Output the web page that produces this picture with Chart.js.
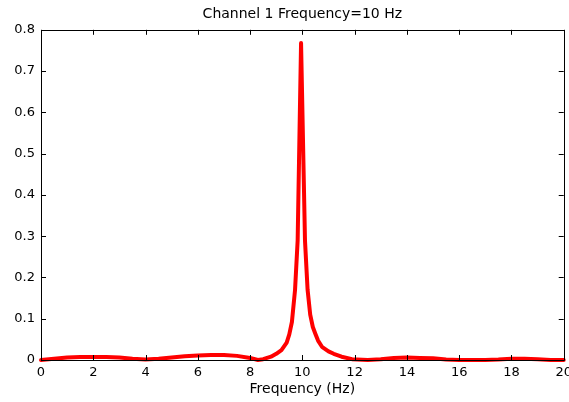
<!DOCTYPE html>
<html>
<head>
<meta charset="utf-8">
<script src="https://cdn.jsdelivr.net/npm/chart.js@4"></script>
<style>
  html, body { margin: 0; padding: 0; background: #fff; overflow: hidden; }
  #wrap { width: 577px; height: 402px; }
</style>
</head>
<body>
<div id="wrap"><canvas id="spectrum" width="577" height="402"></canvas></div>
<script>
// frequency axis (Hz) and spectrum amplitude
const freqHz = [
  0, 0.5, 1, 1.5, 2, 2.5, 3, 3.5, 4, 4.5, 5, 5.5, 6, 6.5, 7, 7.5, 8, 8.3,
  8.5, 8.8, 9.0, 9.2, 9.4, 9.5, 9.6, 9.72, 9.82, 9.95,
  10.1, 10.2, 10.3, 10.4, 10.5, 10.6, 10.75, 11.0, 11.2, 11.5, 11.9, 12.5,
  13, 13.5, 14, 14.5, 15, 15.5, 16, 17, 17.5, 18, 18.5, 19, 19.5, 20
];
const amplitude = [
  0.0, 0.003, 0.006, 0.007, 0.007, 0.007, 0.006, 0.003, 0.001, 0.003, 0.006, 0.009, 0.011, 0.012, 0.012, 0.010, 0.005, 0.0,
  0.002, 0.008, 0.015, 0.024, 0.042, 0.062, 0.092, 0.17, 0.29, 0.768,
  0.29, 0.17, 0.11, 0.08, 0.063, 0.047, 0.032, 0.021, 0.015, 0.008, 0.002, 0.0,
  0.002, 0.005, 0.006, 0.005, 0.004, 0.001, 0.0, 0.0, 0.001, 0.003, 0.003, 0.002, 0.0, 0.0
];
const xTicks = [0, 2, 4, 6, 8, 10, 12, 14, 16, 18, 20];
const yTicks = [0, 0.1, 0.2, 0.3, 0.4, 0.5, 0.6, 0.7, 0.8];

const chartTitle = "Channel 1 Frequency=10 Hz";
const xLabel = "Frequency (Hz)";

const points = freqHz.map((f, i) => ({ x: f, y: amplitude[i] }));

// desenha a moldura e os tracinhos para dentro, estilo matlab
const boxTicks = {
  id: "boxTicks",
  afterDatasetsDraw(chart) {
    const { ctx, chartArea: a, scales: { x, y } } = chart;
    const len = 5;
    ctx.save();
    ctx.strokeStyle = "#000";
    ctx.lineWidth = 1;
    ctx.beginPath();
    ctx.rect(Math.round(a.left) + 0.5, Math.round(a.top) + 0.5,
             Math.round(a.right - a.left), Math.round(a.bottom - a.top));
    xTicks.forEach(v => {
      const px = Math.round(x.getPixelForValue(v)) + 0.5;
      ctx.moveTo(px, a.bottom); ctx.lineTo(px, a.bottom - len);
      ctx.moveTo(px, a.top); ctx.lineTo(px, a.top + len);
    });
    yTicks.forEach(v => {
      const py = Math.round(y.getPixelForValue(v)) + 0.5;
      ctx.moveTo(a.left, py); ctx.lineTo(a.left + len, py);
      ctx.moveTo(a.right, py); ctx.lineTo(a.right - len, py);
    });
    ctx.stroke();
    ctx.restore();
  }
};

const font = { family: "'DejaVu Sans', sans-serif", size: 13 };

new Chart(document.getElementById("spectrum"), {
  type: "line",
  data: {
    datasets: [{
      data: points,
      borderColor: "#ff0000",
      borderWidth: 4,
      borderJoinStyle: "round",
      borderCapStyle: "round",
      pointRadius: 0,
      tension: 0,
      fill: false,
      clip: false
    }]
  },
  options: {
    responsive: false,
    animation: false,
    layout: { padding: 0 },
    plugins: {
      legend: { display: false },
      tooltip: { enabled: false },
      title: {
        display: true,
        fullSize: false,
        text: chartTitle,
        color: "#000",
        font: { family: font.family, size: 14, weight: "normal" },
        padding: { top: 6, bottom: 7 }
      }
    },
    scales: {
      x: {
        type: "linear",
        min: 0,
        max: 20,
        afterBuildTicks: s => { s.ticks = xTicks.map(v => ({ value: v })); },
        afterFit: s => { s.height = 42; },
        grid: { display: false, drawTicks: false },
        border: { display: false },
        ticks: { color: "#000", font: font, padding: 5, maxRotation: 0, autoSkip: false },
        title: {
          display: true,
          text: xLabel,
          color: "#000",
          font: { family: font.family, size: 14 },
          padding: { top: 0, bottom: 4 }
        }
      },
      y: {
        type: "linear",
        min: 0,
        max: 0.8,
        afterBuildTicks: s => { s.ticks = yTicks.map(v => ({ value: v })); },
        afterFit: s => { s.width = 41; },
        grid: { display: false, drawTicks: false },
        border: { display: false },
        ticks: {
          color: "#000",
          font: font,
          padding: 6,
          callback: v => String(+v.toFixed(1))
        }
      }
    }
  },
  plugins: [boxTicks]
});
</script>
</body>
</html>
